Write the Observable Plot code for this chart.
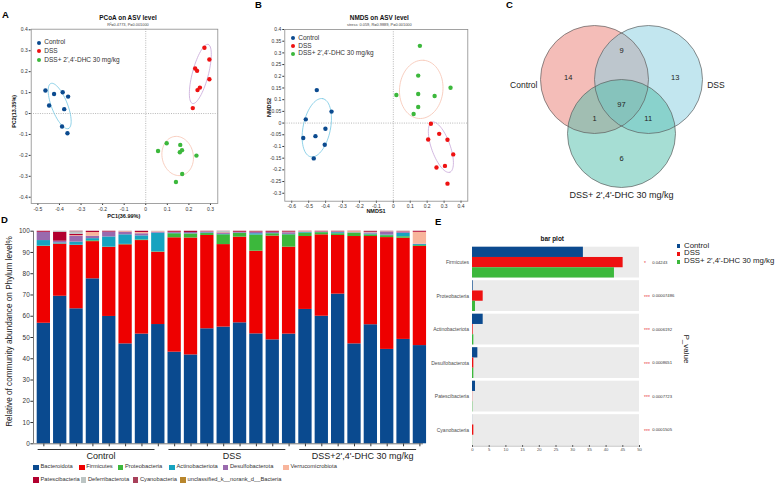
<!DOCTYPE html>
<html><head><meta charset="utf-8">
<script src="https://cdn.jsdelivr.net/npm/d3@7"></script>
<script src="https://cdn.jsdelivr.net/npm/@observablehq/plot@0.6"></script>
<style>
body{margin:0;background:#fff;}
#root{position:relative;width:780px;height:484px;overflow:hidden;background:#fff;font-family:"Liberation Sans",Arial,Helvetica,sans-serif;color:#222;}
.pl{position:absolute;}
.t{position:absolute;white-space:nowrap;}
</style></head>
<body><div id="root"></div>
<script>
// ---------------- DATA ----------------
const groups = ["Control", "DSS", "DSS+ 2',4'-DHC 30 mg/kg"];

// Panel A: PCoA
const pcoaControlX = [-0.465, -0.425, -0.385, -0.360, -0.448, -0.378, -0.388, -0.363];
const pcoaControlY = [0.110, 0.093, 0.102, 0.081, 0.038, 0.021, -0.062, -0.094];
const pcoaDssX = [0.272, 0.295, 0.229, 0.238, 0.295, 0.251, 0.240, 0.218];
const pcoaDssY = [0.314, 0.258, 0.215, 0.204, 0.164, 0.124, 0.112, 0.026];
const pcoaDhcX = [0.097, 0.057, 0.160, 0.168, 0.158, 0.235, 0.169, 0.140];
const pcoaDhcY = [-0.142, -0.179, -0.150, -0.175, -0.185, -0.201, -0.289, -0.327];
// ellipse: centre, major half-axis vector, minor half-axis vector (data units)
const pcoaEllCX = [-0.399, 0.253, 0.148];
const pcoaEllCY = [0.036, 0.189, -0.203];
const pcoaEllAX = [0.0408, 0.0362, 0.0185];
const pcoaEllAY = [-0.1077, 0.1411, -0.0925];
const pcoaEllBX = [0.0343, 0.0357, 0.0708];
const pcoaEllBY = [0.0140, -0.0098, 0.0152];
const pcoaXTicks = [-0.5, -0.4, -0.3, -0.2, -0.1, 0, 0.1, 0.2, 0.3];
const pcoaYTicks = [-0.4, -0.3, -0.2, -0.1, 0, 0.1, 0.2, 0.3, 0.4];

// Panel B: NMDS
const nmdsControlX = [-0.452, -0.365, -0.517, -0.401, -0.532, -0.460, -0.405, -0.470];
const nmdsControlY = [0.141, 0.049, 0.016, -0.024, -0.064, -0.056, -0.093, -0.151];
const nmdsDssX = [0.222, 0.206, 0.271, 0.320, 0.354, 0.255, 0.305, 0.320];
const nmdsDssY = [-0.003, -0.070, -0.046, -0.071, -0.134, -0.190, -0.183, -0.259];
const nmdsDhcX = [0.157, 0.147, 0.018, 0.147, 0.244, 0.338, 0.147, 0.120];
const nmdsDhcY = [0.330, 0.203, 0.120, 0.124, 0.116, 0.151, 0.069, 0.039];
const nmdsEllCX = [-0.452, 0.281, 0.165];
const nmdsEllCY = [-0.020, -0.103, 0.144];
const nmdsEllAX = [0.0354, 0.053, 0.0157];
const nmdsEllAY = [0.1243, -0.107, 0.1243];
const nmdsEllBX = [0.079, 0.0517, 0.1277];
const nmdsEllBY = [-0.0119, 0.0136, -0.0086];
const nmdsXTicks = [-0.6, -0.5, -0.4, -0.3, -0.2, -0.1, 0, 0.1, 0.2, 0.3, 0.4];
const nmdsYTicks = [-0.3, -0.25, -0.2, -0.15, -0.1, -0.05, 0, 0.05, 0.1, 0.15, 0.2, 0.25, 0.3, 0.35, 0.4];

// Panel C: Venn
const vennSets = ["Control", "DSS", "DSS+ 2',4'-DHC 30 mg/kg"];
const vennCenterX = [0, 1, 0.5];
const vennCenterY = [0, 0, -1];
const vennRadius = 1;
const vennRegions = ["Control only", "Control∩DSS", "DSS only", "all", "Control∩DHC", "DSS∩DHC", "DHC only"];
const vennCounts = [14, 9, 13, 97, 1, 11, 6];
const vennRegionX = [-0.487, 0.5, 1.494, 0.5, 0, 0.994, 0.5];
const vennRegionY = [0.031, 0.537, 0.037, -0.463, -0.717, -0.717, -1.457];
const vennLabelX = [-1.056, 2.087, 0.5];
const vennLabelY = [-0.106, -0.106, -2.148];

// Panel D: phylum composition, 24 samples
const dGroups = ["Control", "DSS", "DSS+2',4'-DHC 30 mg/kg"];
const sampleGroup = [0,0,0,0,0,0,0,0, 1,1,1,1,1,1,1,1, 2,2,2,2,2,2,2,2];
const phyla = ["Bacteroidota", "Firmicutes", "Proteobacteria", "Actinobacteriota", "Desulfobacterota",
  "Verrucomicrobiota", "Patescibacteria", "Deferribacterota", "Cyanobacteria", "unclassified_k__norank_d__Bacteria"];
const bacteroidota = [56.7,69.4,63.5,77.6,59.9,47.0,51.6,56.1, 43.1,41.8,54.1,54.9,56.9,51.7,48.9,51.6, 63.2,60.0,70.4,47.0,56.0,44.4,49.1,46.2];
const firmicutes = [36.1,24.5,29.8,17.5,32.5,46.6,44.0,34.0, 53.8,55.0,43.9,38.8,40.3,38.9,48.8,40.9, 34.3,38.3,27.6,50.5,41.5,52.6,47.6,46.6];
const proteobacteria = [0.2,0.1,0.1,0.4,0.1,0.2,0.3,0.2, 1.9,1.9,0.9,4.6,1.8,7.6,1.1,5.8, 1.6,1.0,0.8,1.6,0.8,0.9,0.7,0.4];
const actinobacteriota = [2.6,0.5,1.5,1.0,4.8,4.5,1.9,8.8, 0.2,0.1,0.3,0.2,0.1,0.6,0.1,0.2, 0.3,0.1,0.5,0.1,0.4,0.3,1.6,0.5];
const desulfobacterota = [3.9,0.8,2.7,1.1,2.3,1.2,1.0,0.5, 0.4,0.6,0.4,0.5,0.3,0.6,0.5,0.8, 0.2,0.2,0.3,0.1,0.5,1.4,0.5,0.2];
const verrucomicrobiota = [0.0,0.0,0.3,1.8,0.0,0.3,0.6,0.3, 0.1,0.0,0.1,0.2,0.1,0.1,0.1,0.2, 0.2,0.1,0.1,0.5,0.2,0.1,0.1,5.6];
const patescibacteria = [0.4,4.2,0.6,0.5,0.3,0.1,0.5,0.0, 0.4,0.5,0.2,0.1,0.4,0.3,0.4,0.3, 0.1,0.2,0.2,0.1,0.4,0.1,0.2,0.4];
const deferribacterota = [0.0,0.5,1.2,0.0,0.0,0.1,0.0,0.1, 0.0,0.0,0.0,0.6,0.0,0.1,0.0,0.0, 0.0,0.0,0.0,0.0,0.1,0.1,0.1,0.0];
const cyanobacteria = [0.1,0.0,0.3,0.1,0.1,0.0,0.1,0.0, 0.1,0.1,0.1,0.1,0.1,0.1,0.1,0.2, 0.1,0.1,0.1,0.1,0.1,0.1,0.1,0.1];
const unclassified = [0,0,0,0,0,0,0,0, 0,0,0,0,0,0,0,0, 0,0,0,0,0,0,0,0];
const dYTicks = [0, 10, 20, 30, 40, 50, 60, 70, 80, 90, 100];

// Panel E: mean abundance per group + p-values
const ePhyla = ["Firmicutes", "Proteobacteria", "Actinobacteriota", "Desulfobacterota", "Patescibacteria", "Cyanobacteria"];
const eControl = [33.2, 0.2, 3.2, 1.6, 0.9, 0.02];
const eDss = [45.1, 3.2, 0.2, 0.4, 0.05, 0.4];
const eDhc = [42.5, 0.9, 0.4, 0.4, 0.1, 0.03];
const ePValues = ["0.04243", "0.00007486", "0.0006192", "0.0008651", "0.0007723", "0.0001505"];
const eStars = ["*", "***", "***", "***", "***", "***"];
const eXTicks = [0, 5, 10, 15, 20, 25, 30, 35, 40, 45, 50];

// ---------------- STYLES ----------------
const FONT = '"Liberation Sans", Arial, Helvetica, sans-serif';
const groupColors = ["#0b4a8f", "#ee1111", "#3cb83c"];
const ellipseColors = ["#74c6e2", "#c6a6d8", "#f6c3b1"];
const vennColors = ["#e98177", "#8bcfe1", "#55bfad"];
const phylaColors = ["#0a4a8f", "#ee0000", "#3cb83c", "#16a3c0", "#9a6aae", "#f8b59c", "#b2002f", "#bcc5c4", "#a8405a", "#b8862c"];

const root = document.getElementById("root");
function place(node, left, top) {
  const w = document.createElement("div");
  w.className = "pl"; w.style.left = left + "px"; w.style.top = top + "px";
  w.appendChild(node); root.appendChild(w);
}
function label(s, x, y, o = {}) {
  const d = document.createElement("div");
  const f = o.size || 7;
  d.className = "t"; d.textContent = s;
  Object.assign(d.style, {left: x + "px", top: (y - 0.85 * f) + "px", fontSize: f + "px", lineHeight: f + "px",
    fontWeight: o.bold ? "bold" : "normal", color: o.color || "#222"});
  if (o.anchor === "middle") d.style.transform = "translateX(-50%)";
  if (o.anchor === "end") d.style.transform = "translateX(-100%)";
  root.appendChild(d);
}
function box(x, y, w, h, color, round) {
  const d = document.createElement("div");
  Object.assign(d.style, {position: "absolute", left: x + "px", top: y + "px", width: w + "px", height: h + "px",
    background: color, borderRadius: round ? "50%" : "0"});
  root.appendChild(d);
}

// ---------------- A & B ordination ----------------
function ordination(cfg) {
  const pts = [];
  cfg.xs.forEach((arr, g) => arr.forEach((x, j) => pts.push({x, y: cfg.ys[g][j], g: groups[g]})));
  const e = cfg.ell;
  const ells = e.cx.map((cx, g) => d3.range(73).map(k => {
    const t = 2 * Math.PI * k / 72;
    return {x: cx + e.ax[g] * Math.cos(t) + e.bx[g] * Math.sin(t),
            y: e.cy[g] + e.ay[g] * Math.cos(t) + e.by[g] * Math.sin(t)};
  }));
  const svg = Plot.plot({
    width: cfg.width, height: cfg.height,
    marginLeft: cfg.m[0], marginRight: cfg.m[1], marginTop: cfg.m[2], marginBottom: cfg.m[3],
    style: {background: "transparent", fontFamily: FONT, fontSize: "5px", color: "#333", overflow: "visible"},
    x: {domain: cfg.xDomain, ticks: cfg.xTicks, tickFormat: d => String(d), tickSize: 2, tickPadding: 1.5, label: null},
    y: {domain: cfg.yDomain, ticks: cfg.yTicks, tickFormat: d => String(d), tickSize: 2, tickPadding: 1.5, label: null},
    color: {domain: groups, range: groupColors},
    marks: [
      Plot.ruleX([0], {stroke: "#9a9a9a", strokeWidth: 0.7, strokeDasharray: "1,1.3"}),
      Plot.ruleY([0], {stroke: "#9a9a9a", strokeWidth: 0.7, strokeDasharray: "1,1.3"}),
      ...ells.map((pp, g) => Plot.line(pp, {x: "x", y: "y", stroke: ellipseColors[g], strokeWidth: 0.8})),
      Plot.dot(pts, {x: "x", y: "y", fill: "g", r: 2.2}),
      Plot.frame({stroke: "#8c8c8c", strokeWidth: 0.8}),
      Plot.text([cfg.title], {text: d => d, frameAnchor: "top", textAnchor: "middle", lineAnchor: "bottom", dx: cfg.tdx, dy: cfg.tdy,
        fontWeight: "bold", fontSize: 6.4, fill: "#111"}),
      Plot.text([cfg.subtitle], {text: d => d, frameAnchor: "top", textAnchor: "middle", lineAnchor: "bottom", dx: cfg.tdx, dy: cfg.sdy,
        fontSize: 3.9, fill: "#444"}),
      Plot.text([cfg.xLabel], {text: d => d, frameAnchor: "bottom", textAnchor: "middle", lineAnchor: "bottom", dx: cfg.xldx, dy: cfg.xldy,
        fontWeight: "bold", fontSize: 5.5, fill: "#111"}),
      Plot.text([cfg.yLabel], {text: d => d, frameAnchor: "left", textAnchor: "middle", lineAnchor: "middle", rotate: -90,
        dx: cfg.yldx, dy: cfg.yldy, fontWeight: "bold", fontSize: 5.5, fill: "#111"})
    ]
  });
  place(svg, cfg.left, cfg.top);
  cfg.legend.forEach((yc, g) => {
    box(cfg.legX - 2.2, yc - 2.2, 4.4, 4.4, groupColors[g], true);
    label(groups[g], cfg.legX + 5, yc + 2.3, {size: 6.5, color: "#333"});
  });
}

ordination({
  left: 0, top: 0, width: 230, height: 222, m: [30.7, 12.7, 28.7, 19],
  xDomain: [-0.531, 0.334], yDomain: [-0.43, 0.403], xTicks: pcoaXTicks, yTicks: pcoaYTicks,
  xs: [pcoaControlX, pcoaDssX, pcoaDhcX], ys: [pcoaControlY, pcoaDssY, pcoaDhcY],
  ell: {cx: pcoaEllCX, cy: pcoaEllCY, ax: pcoaEllAX, ay: pcoaEllAY, bx: pcoaEllBX, by: pcoaEllBY},
  title: "PCoA on ASV level", subtitle: "R²=0.4773, P=0.001000", tdx: 3.5, tdy: -9.7, sdy: -3.4,
  xLabel: "PC1(36.99%)", xldx: -0.7, xldy: 14.5, yLabel: "PC2(13.35%)", yldx: -17.4, yldy: -5,
  legX: 39.3, legend: [42.7, 51.2, 60]
});
ordination({
  left: 255, top: 0, width: 225, height: 222, m: [29.3, 12.7, 29, 21.3],
  xDomain: [-0.641, 0.44], yDomain: [-0.334, 0.4], xTicks: nmdsXTicks, yTicks: nmdsYTicks,
  xs: [nmdsControlX, nmdsDssX, nmdsDhcX], ys: [nmdsControlY, nmdsDssY, nmdsDhcY],
  ell: {cx: nmdsEllCX, cy: nmdsEllCY, ax: nmdsEllAX, ay: nmdsEllAY, bx: nmdsEllBX, by: nmdsEllBY},
  title: "NMDS on ASV level", subtitle: "stress: 0.059, R=0.9889, P=0.001000", tdx: 3, tdy: -10, sdy: -3.7,
  xLabel: "NMDS1", xldx: -0.3, xldy: 11.8, yLabel: "NMDS2", yldx: -16, yldy: -7.9,
  legX: 293.3, legend: [38.3, 46, 53.7]
});

// ---------------- C Venn ----------------
{
  const xDom = [-1.3704, 3.4444], yDom = [-2.2407, 1.463];
  const W = 260, H = 200;
  const rPx = W / (xDom[1] - xDom[0]) * vennRadius;
  const sets = vennSets.map((s, k) => ({s, x: vennCenterX[k], y: vennCenterY[k]}));
  const regions = vennCounts.map((c, k) => ({c, x: vennRegionX[k], y: vennRegionY[k]}));
  const labs = vennSets.map((s, k) => ({s, x: vennLabelX[k], y: vennLabelY[k]}));
  const svg = Plot.plot({
    width: W, height: H, margin: 0,
    style: {background: "transparent", fontFamily: FONT, fontSize: "7.5px", color: "#222", overflow: "visible"},
    x: {domain: xDom, axis: null}, y: {domain: yDom, axis: null},
    marks: [
      ...sets.map((d, k) => Plot.dot([d], {x: "x", y: "y", r: rPx, fill: vennColors[k], fillOpacity: 0.52, stroke: null})),
      Plot.dot(sets, {x: "x", y: "y", r: rPx, fill: "none", stroke: "#5e5e5e", strokeWidth: 0.7}),
      Plot.text(regions, {x: "x", y: "y", text: d => String(d.c), fontSize: 7.5, fill: "#222"}),
      Plot.text([labs[0]], {x: "x", y: "y", text: "s", textAnchor: "end", fontSize: 8.5, fill: "#222"}),
      Plot.text([labs[1]], {x: "x", y: "y", text: "s", textAnchor: "start", fontSize: 8.5, fill: "#222"}),
      Plot.text([labs[2]], {x: "x", y: "y", text: "s", textAnchor: "middle", fontSize: 9, fill: "#222"})
    ]
  });
  place(svg, 520, 0);
}

// ---------------- D stacked bars ----------------
{
  const phylaValues = [bacteroidota, firmicutes, proteobacteria, actinobacteriota, desulfobacterota,
    verrucomicrobiota, patescibacteria, deferribacterota, cyanobacteria, unclassified];
  const n = bacteroidota.length;
  const idx = d3.range(n);
  const rows = [];
  idx.forEach(i => {
    let acc = 0;
    phyla.forEach((p, k) => {
      const v = phylaValues[k][i];
      rows.push({i, phylum: p, y1: acc, y2: acc + v});
      acc += v;
    });
  });
  const spans = dGroups.map((g, k) => {
    const members = idx.filter(i => sampleGroup[i] === k);
    return {name: g, first: d3.min(members), last: d3.max(members), mid: d3.mean(members)};
  });
  const xDom = [-0.633, n - 1 + 0.22];
  const half = 0.407;
  const svg = Plot.plot({
    width: 440, height: 284, marginLeft: 33, marginRight: 17, marginTop: 30.7, marginBottom: 40.7,
    style: {background: "transparent", fontFamily: FONT, fontSize: "6.4px", color: "#333", overflow: "visible"},
    x: {domain: xDom, ticks: idx, tickFormat: () => "", tickSize: 3, tickPadding: 0, label: null},
    y: {domain: [0, 100], ticks: dYTicks, tickSize: 2.6, tickPadding: 1.2, label: null},
    color: {domain: phyla, range: phylaColors},
    marks: [
      Plot.rect(rows, {x1: d => d.i - half, x2: d => d.i + half, y1: "y1", y2: "y2", fill: "phylum"}),
      Plot.ruleY([0], {stroke: "#555", strokeWidth: 0.8}),
      Plot.ruleX([xDom[0]], {y1: 0, y2: 100, stroke: "#555", strokeWidth: 0.8}),
      Plot.ruleY(spans, {y: 0, x1: d => d.first - 0.35, x2: d => d.last - 0.2, dy: 5.7, stroke: "#333", strokeWidth: 1}),
      Plot.text(spans, {x: "mid", y: 0, text: "name", dy: 12.6, lineAnchor: "middle", fontSize: 9, fill: "#222"}),
      Plot.text(["Relative of community abundance on Phylum level%"], {text: d => d, frameAnchor: "left", rotate: -90,
        textAnchor: "middle", lineAnchor: "middle", dx: -24.2, dy: -6, fontSize: 8.2, fill: "#222"})
    ]
  });
  place(svg, 0, 200);
  // legend
  const legPos = [[33.3, 467.3], [79, 467.3], [117.7, 467.3], [169.3, 467.3], [222.7, 467.3], [283.3, 467.3],
                  [33.3, 480], [80.7, 480], [132.7, 480], [180.3, 480]];
  phyla.forEach((p, k) => {
    const [x, yc] = legPos[k];
    box(x, yc - 2.8, 5.6, 5.6, phylaColors[k]);
    label(p, x + 7.2, yc + 2.0, {size: 5.75, color: "#333"});
  });
}

// ---------------- E bar plot ----------------
{
  const pad = 0.08;
  const yMax = ePhyla.length - pad;
  const band = (1 - pad) / 3;
  const vals = [eControl, eDss, eDhc];
  const bars = [];
  ePhyla.forEach((p, i) => vals.forEach((arr, g) => bars.push({p, g: groups[g], v: arr[i], y1: i + g * band, y2: i + (g + 1) * band})));
  const rowsE = ePhyla.map((p, i) => ({p, i, yc: i + (1 - pad) / 2, pv: ePValues[i], st: eStars[i]}));
  const xDom = [0, 50];
  const svg = Plot.plot({
    width: 350, height: 284, marginLeft: 42, marginRight: 141, marginTop: 46.7, marginBottom: 39,
    style: {background: "transparent", fontFamily: FONT, fontSize: "4.2px", color: "#4d4d4d", overflow: "visible"},
    x: {domain: xDom, ticks: eXTicks, tickSize: 2, tickPadding: 1, label: null},
    y: {domain: [0, yMax], reverse: true, axis: null},
    color: {domain: groups, range: groupColors},
    marks: [
      Plot.rect(rowsE, {x1: xDom[0], x2: xDom[1], y1: "i", y2: d => d.i + 1 - pad, fill: "#ebebeb"}),
      Plot.rect(bars, {x1: 0, x2: "v", y1: "y1", y2: "y2", fill: "g"}),
      Plot.ruleY([yMax], {x1: xDom[0], x2: xDom[1], dy: 0.6, stroke: "#888", strokeWidth: 0.6}),
      Plot.text(rowsE, {x: 0, y: "yc", text: "p", textAnchor: "end", dx: -3.5, fontSize: 5, fill: "#4d4d4d"}),
      Plot.text(rowsE, {x: xDom[1], y: "yc", text: "st", textAnchor: "start", dx: 4.5, dy: 1.2, fontSize: 5, fill: "#e8383d"}),
      Plot.text(rowsE, {x: xDom[1], y: "yc", text: "pv", textAnchor: "start", dx: 12.7, fontSize: 4.2, fill: "#333"}),
      Plot.text(["bar plot"], {text: d => d, frameAnchor: "top", textAnchor: "middle", lineAnchor: "bottom", dx: -3.8, dy: -6.7,
        fontWeight: "bold", fontSize: 6.4, fill: "#111"}),
      Plot.text(["P_value"], {text: d => d, frameAnchor: "right", textAnchor: "middle", lineAnchor: "middle", rotate: 90,
        dx: 47, dy: 2.6, fontSize: 8, fill: "#222"})
    ]
  });
  place(svg, 430, 200);
  const legY = [246.0, 253.9, 261.8];
  groups.forEach((g, k) => {
    box(676.7, legY[k] - 1.9, 3.8, 3.8, groupColors[k]);
    label(g, 684, legY[k] + 2.2, {size: 7.8, color: "#222"});
  });
}

// ---------------- panel letters ----------------
label("A", 2, 18, {size: 9.5, bold: true, color: "#000"});
label("B", 255, 8.5, {size: 9.5, bold: true, color: "#000"});
label("C", 506, 8.5, {size: 9.5, bold: true, color: "#000"});
label("D", 1, 223, {size: 9.5, bold: true, color: "#000"});
label("E", 435, 225, {size: 9.5, bold: true, color: "#000"});
</script>
</body></html>
